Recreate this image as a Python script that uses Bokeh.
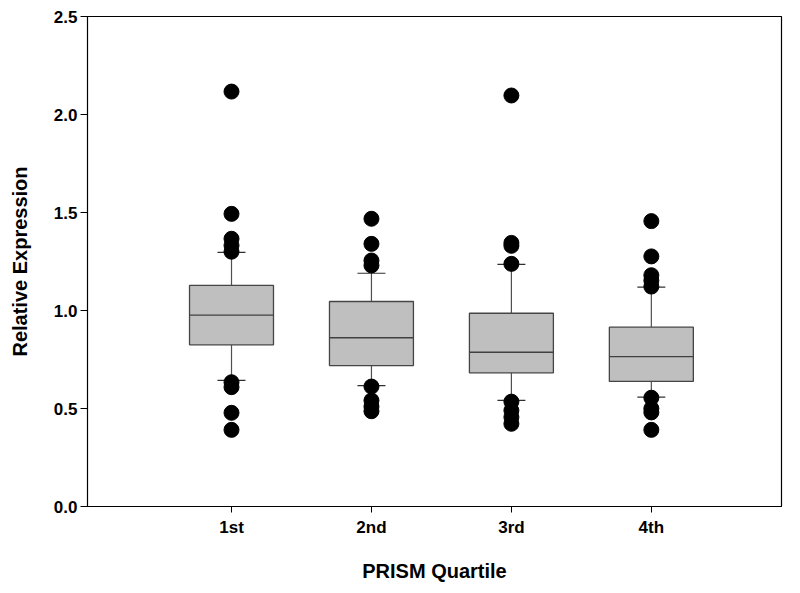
from bokeh.plotting import figure
from bokeh.models import FixedTicker, Range1d, ColumnDataSource
from bokeh.embed import file_html
from bokeh.resources import INLINE

categories = ["1st", "2nd", "3rd", "4th"]
positions = [1, 2, 3, 4]
q1 = [0.825, 0.719, 0.682, 0.638]
median = [0.976, 0.861, 0.787, 0.765]
q3 = [1.128, 1.046, 0.986, 0.915]
whisker_low = [0.643, 0.617, 0.541, 0.558]
whisker_high = [1.297, 1.190, 1.235, 1.119]
outliers = [
    [2.117, 1.493, 1.366, 1.332, 1.300, 0.634, 0.609, 0.478, 0.391],
    [1.468, 1.340, 1.255, 1.230, 0.612, 0.541, 0.510, 0.486],
    [2.097, 1.345, 1.330, 1.238, 0.535, 0.490, 0.456, 0.422],
    [1.456, 1.276, 1.180, 1.153, 1.122, 0.555, 0.500, 0.480, 0.391],
]

FONT = "Liberation Sans"

p = figure(width=784, height=585, output_backend="svg", toolbar_location=None,
           x_range=Range1d(-0.029, 4.93), y_range=Range1d(0, 2.5),
           min_border_left=87, min_border_right=3, min_border_top=16, min_border_bottom=79)
p.xgrid.visible = False
p.ygrid.visible = False
p.outline_line_color = "black"
p.outline_line_width = 1.2

box_w = 0.6
cap_w = 0.2
src = ColumnDataSource(dict(x=positions, q1=q1, q3=q3, med=median, lo=whisker_low, hi=whisker_high,
                            x0=[x - box_w / 2 for x in positions], x1=[x + box_w / 2 for x in positions],
                            c0=[x - cap_w / 2 for x in positions], c1=[x + cap_w / 2 for x in positions]))
# whiskers
p.segment(x0="x", y0="q3", x1="x", y1="hi", source=src, line_color="#505050", line_width=1.2)
p.segment(x0="x", y0="q1", x1="x", y1="lo", source=src, line_color="#505050", line_width=1.2)
p.segment(x0="c0", y0="hi", x1="c1", y1="hi", source=src, line_color="#303030", line_width=1.2)
p.segment(x0="c0", y0="lo", x1="c1", y1="lo", source=src, line_color="#303030", line_width=1.2)
# boxes
p.vbar(x="x", width=box_w, bottom="q1", top="q3", source=src, fill_color="#c0bfc0",
       line_color="#454545", line_width=1.3)
p.segment(x0="x0", y0="med", x1="x1", y1="med", source=src, line_color="#404040", line_width=1.3)
# outliers
ox, oy = [], []
for x, vals in zip(positions, outliers):
    for v in vals:
        ox.append(x)
        oy.append(v)
p.scatter(ox, oy, size=15, marker="circle", fill_color="black", line_color="black")

p.xaxis.ticker = FixedTicker(ticks=positions)
p.xaxis.major_label_overrides = {x: c for x, c in zip(positions, categories)}
p.yaxis.ticker = FixedTicker(ticks=[0, 0.5, 1.0, 1.5, 2.0, 2.5])
p.yaxis.major_label_overrides = {0: "0.0", 0.5: "0.5", 1.0: "1.0", 1.5: "1.5", 2.0: "2.0", 2.5: "2.5"}

for ax in (p.xaxis, p.yaxis):
    ax.minor_tick_line_color = None
    ax.major_tick_in = 0
    ax.axis_line_color = "black"
    ax.major_tick_line_color = "black"
    ax.major_label_text_font = FONT
    ax.major_label_text_font_style = "bold"
    ax.major_label_text_font_size = "17px"
    ax.major_label_text_color = "black"
    ax.axis_label_text_font = FONT
    ax.axis_label_text_font_style = "bold"
    ax.axis_label_text_font_size = "20px"
    ax.axis_label_text_color = "black"

p.xaxis.axis_label = "PRISM Quartile"
p.yaxis.axis_label = "Relative Expression"
p.xaxis.major_tick_out = 6
p.yaxis.major_tick_out = 7
p.xaxis.major_label_standoff = 5
p.yaxis.major_label_standoff = 3
p.xaxis.axis_label_standoff = 20
p.yaxis.axis_label_standoff = 20

open("out.html", "w").write(file_html(p, INLINE))
